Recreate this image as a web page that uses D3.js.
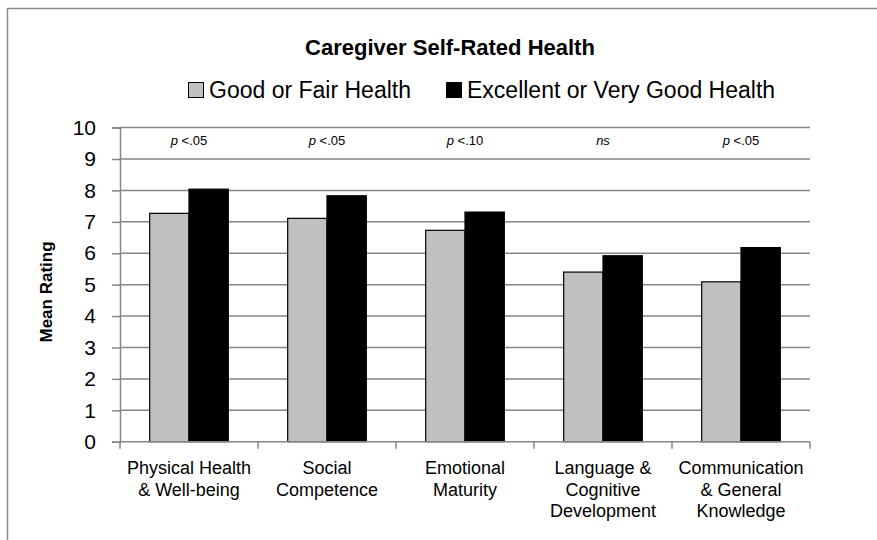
<!DOCTYPE html>
<html>
<head>
<meta charset="utf-8">
<script src="https://cdn.jsdelivr.net/npm/d3@7"></script>
<style>
    body { margin: 0; background: #fff; }
    svg { display: block; font-family: 'Liberation Sans', Arial, sans-serif; }
</style>
</head>
<body>
<div id="chart"></div>
<script>
const width = 877;
const height = 540;

// data
const categories = [
    ['Physical Health', '& Well-being'],
    ['Social', 'Competence'],
    ['Emotional', 'Maturity'],
    ['Language &', 'Cognitive', 'Development'],
    ['Communication', '& General', 'Knowledge']
];
const seriesNames = ['Good or Fair Health', 'Excellent or Very Good Health'];
const goodFair = [7.27, 7.11, 6.73, 5.40, 5.09];
const excellent = [8.04, 7.83, 7.31, 5.92, 6.18];
const pLabels = [['p', ' <.05'], ['p', ' <.05'], ['p', ' <.10'], ['ns', ''], ['p', ' <.05']];
const yTicks = [0, 1, 2, 3, 4, 5, 6, 7, 8, 9, 10];

const colors = ['#c0c0c0', '#000000'];
const gridColor = '#868686';

const plot = { left: 120, right: 810, top: 127.6, bottom: 441.7 };

const x = d3.scaleBand()
    .domain(d3.range(categories.length))
    .range([plot.left, plot.right]);

const x1 = d3.scaleBand()
    .domain([0, 1])
    .range([0, x.bandwidth()])
    .paddingOuter(0.755);

const y = d3.scaleLinear()
    .domain([0, 10])
    .range([plot.bottom, plot.top]);

const svg = d3.select('#chart')
    .append('svg')
    .attr('width', width)
    .attr('height', height)
    .attr('viewBox', `0,0,${width},${height}`);

// outer chart border
svg.append('rect')
    .attr('x', 7.5)
    .attr('y', 8.5)
    .attr('width', width)
    .attr('height', height)
    .style('fill', '#fff')
    .style('stroke', '#8a8a8a')
    .style('stroke-width', 1.5);

// title
svg.append('text')
    .attr('x', 450)
    .attr('y', 55)
    .attr('text-anchor', 'middle')
    .style('font-size', '22px')
    .style('font-weight', 'bold')
    .text('Caregiver Self-Rated Health');

// legend
const legendX = [188, 446];
const legend = svg.append('g');
seriesNames.forEach((name, i) => {
    legend.append('rect')
        .attr('x', legendX[i] + 0.5)
        .attr('y', 82.5)
        .attr('width', 15)
        .attr('height', 15)
        .style('fill', colors[i])
        .style('stroke', '#000')
        .style('stroke-width', 1);
    legend.append('text')
        .attr('x', legendX[i] + 21)
        .attr('y', 98)
        .style('font-size', '23px')
        .text(name);
});

// gridlines
svg.append('g')
    .selectAll('line')
    .data(yTicks.filter(d => d > 0))
    .join('line')
    .attr('x1', plot.left)
    .attr('x2', plot.right)
    .attr('y1', d => y(d))
    .attr('y2', d => y(d))
    .style('stroke', gridColor)
    .style('stroke-width', 1.5);

// y axis
const yAxis = svg.append('g')
    .attr('transform', `translate(${plot.left},0)`)
    .call(d3.axisLeft(y).tickValues(yTicks).tickSize(8).tickPadding(16));
yAxis.select('.domain').style('stroke', gridColor).style('stroke-width', 1.5);
yAxis.selectAll('.tick line').style('stroke', gridColor).style('stroke-width', 1.5);
yAxis.selectAll('.tick text')
    .style('font-size', '21px')
    .style('font-family', "'Liberation Sans', Arial, sans-serif")
    .attr('fill', '#000');

// y axis title
svg.append('text')
    .attr('transform', `translate(52,292) rotate(-90)`)
    .attr('text-anchor', 'middle')
    .style('font-size', '17px')
    .style('font-weight', 'bold')
    .text('Mean Rating');

// bars
const groups = svg.append('g')
    .selectAll('g')
    .data(categories.map((c, i) => i))
    .join('g')
    .attr('transform', i => `translate(${x(i)},0)`);

groups.selectAll('rect')
    .data(i => [goodFair[i], excellent[i]])
    .join('rect')
    .attr('x', (d, j) => x1(j))
    .attr('y', d => y(d))
    .attr('width', x1.bandwidth())
    .attr('height', d => y(0) - y(d))
    .style('fill', (d, j) => colors[j])
    .style('stroke', '#000')
    .style('stroke-width', 1.2);

// x axis
svg.append('line')
    .attr('x1', plot.left)
    .attr('x2', plot.right)
    .attr('y1', y(0))
    .attr('y2', y(0))
    .style('stroke', gridColor)
    .style('stroke-width', 1.5);

svg.append('g')
    .selectAll('line')
    .data(d3.range(categories.length + 1))
    .join('line')
    .attr('x1', i => plot.left + i * x.step())
    .attr('x2', i => plot.left + i * x.step())
    .attr('y1', y(0))
    .attr('y2', y(0) + 7)
    .style('stroke', gridColor)
    .style('stroke-width', 1.5);

// category labels
svg.append('g')
    .selectAll('text')
    .data(categories)
    .join('text')
    .attr('text-anchor', 'middle')
    .style('font-size', '18px')
    .each(function (lines, i) {
        d3.select(this).selectAll('tspan')
            .data(lines)
            .join('tspan')
            .attr('x', x(i) + x.bandwidth() / 2)
            .attr('y', (d, k) => 474 + k * 21.5)
            .text(d => d);
    });

// significance labels
const sig = svg.append('g')
    .selectAll('text')
    .data(pLabels)
    .join('text')
    .attr('x', (d, i) => x(i) + x.bandwidth() / 2)
    .attr('y', 145)
    .attr('text-anchor', 'middle')
    .style('font-size', '13px');
sig.append('tspan').style('font-style', 'italic').text(d => d[0]);
sig.append('tspan').text(d => d[1]);
</script>
</body>
</html>
